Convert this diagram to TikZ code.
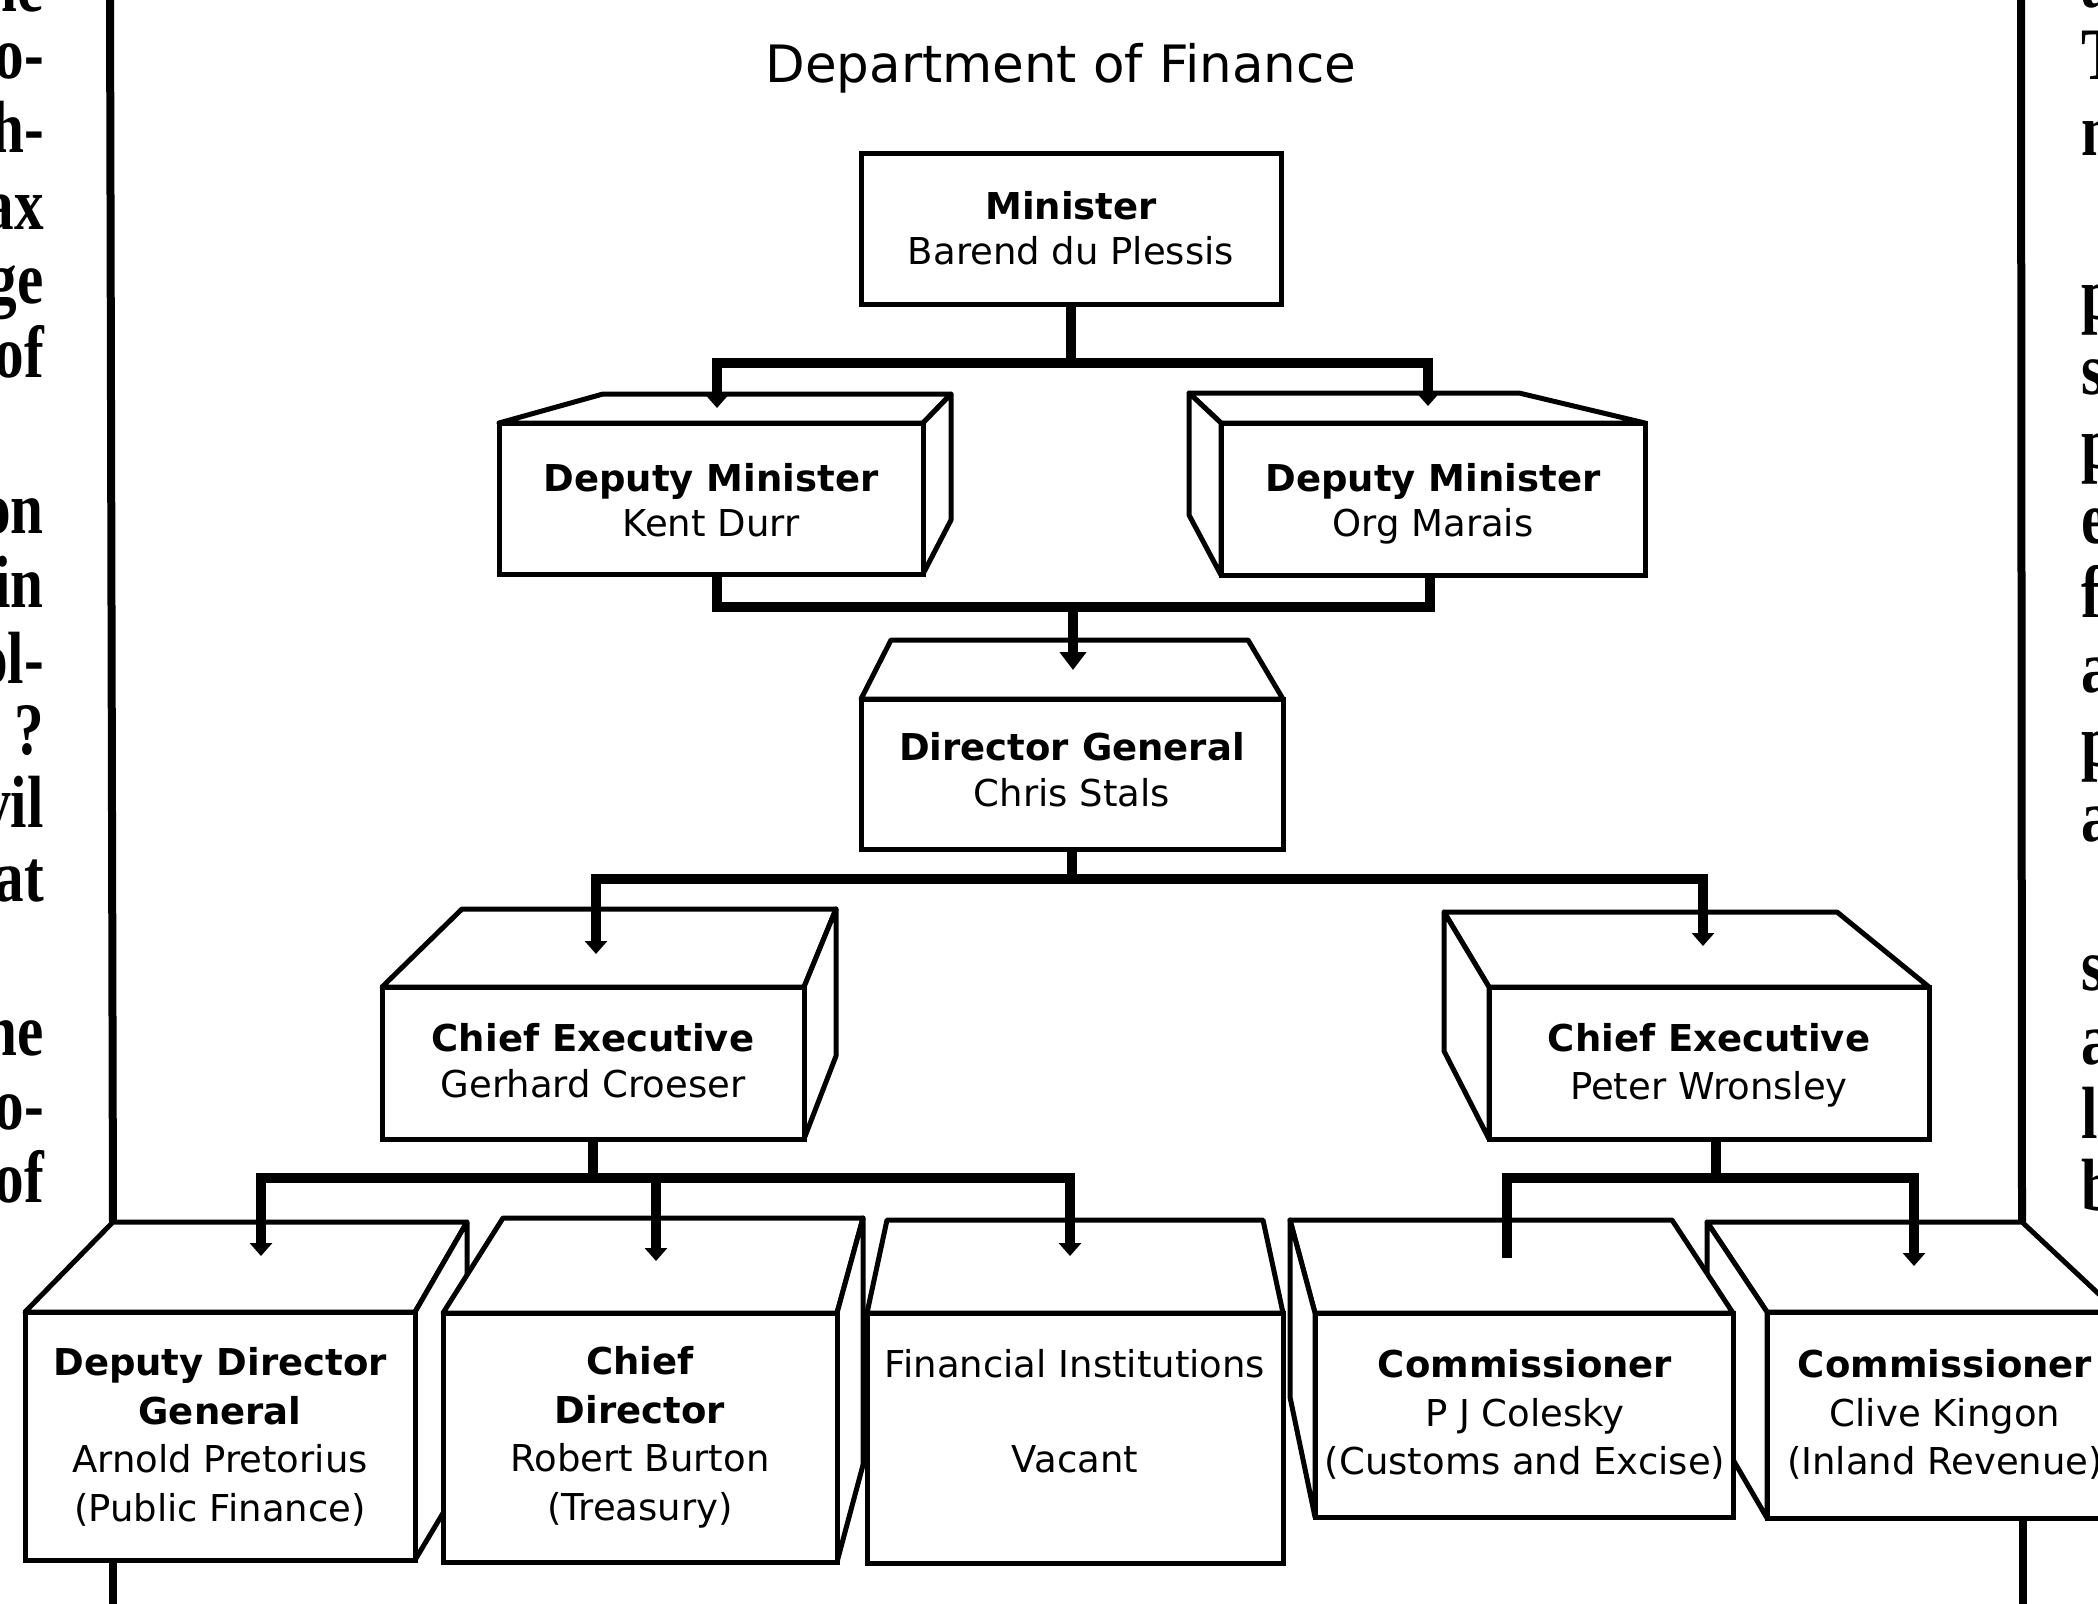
\documentclass[tikz,border=0pt]{standalone}
\usepackage{fontspec}
\usepackage{graphicx}
\setmainfont{DejaVu Sans}
\newfontfamily\dfSerif{Liberation Serif}
\usetikzlibrary{arrows.meta}
\newcommand\dfBox{\fontsize{37}{48}\selectfont}
\newcommand\dfBoxB{\fontsize{37}{48}\selectfont\bfseries}
\newcommand\dfTitle{\fontsize{51.5}{60}\selectfont}
\newcommand\dfCol{\dfSerif\bfseries\fontsize{74}{75}\selectfont}
\newcommand\dfNarrow[1]{\scalebox{0.8}[1]{#1}}
\tikzset{
  frameline/.style={line width=8pt},
  face/.style={draw, fill=white, line width=5pt, line join=round},
  front/.style={draw, fill=white, line width=5pt, rectangle, inner sep=0pt, outer sep=0pt},
  conn/.style={line width=10pt, line join=miter},
  tip/.style={-{Triangle[width=22pt,length=13pt]}},
  bigtip/.style={-{Triangle[width=26pt,length=18pt]}},
  lbl/.style={anchor=base, inner sep=0pt, font=\dfBox},
  lblb/.style={anchor=base, inner sep=0pt, font=\dfBoxB},
  colL/.style={anchor=base east, inner sep=0pt, font=\dfCol},
  colR/.style={anchor=base west, inner sep=0pt, font=\dfCol},
}
\begin{document}
\begin{tikzpicture}[x=1pt,y=-1pt]
\path[use as bounding box] (0,0) rectangle (2098,1603);
\fill[white] (0,0) rectangle (2098,1603);
\clip (0,0) rectangle (2098,1603);

% ---- neighbouring text columns ----
\node[colL] (l0) at (44,12) {\dfNarrow{he}};
\node[colL] (l1) at (44,78) {\dfNarrow{o-}};
\node[colL] (l2) at (44,152) {\dfNarrow{h-}};
\node[colL] (l3) at (44,229) {\dfNarrow{ax}};
\node[colL] (l4) at (44,303) {\dfNarrow{ge}};
\node[colL] (l5) at (44,377) {\dfNarrow{of}};
\node[colL] (l6) at (44,533) {\dfNarrow{on}};
\node[colL] (l7) at (44,607) {\dfNarrow{in}};
\node[colL] (l8) at (44,683) {\dfNarrow{ol-}};
\node[colL] (l9) at (44,754) {\dfNarrow{l ?}};
\node[colL] (l10) at (44,827) {\dfNarrow{vil}};
\node[colL] (l11) at (44,901) {\dfNarrow{at}};
\node[colL] (l12) at (44,1055) {\dfNarrow{he}};
\node[colL] (l13) at (44,1129) {\dfNarrow{o-}};
\node[colL] (l14) at (44,1202) {\dfNarrow{of}};

\node[colR] (r0) at (2081,8) {\dfNarrow{a}};
\node[colR] (r1) at (2081,80) {\dfNarrow{T}};
\node[colR] (r2) at (2081,155) {\dfNarrow{n}};
\node[colR] (r3) at (2081,319) {\dfNarrow{p}};
\node[colR] (r4) at (2081,394) {\dfNarrow{s}};
\node[colR] (r5) at (2081,468) {\dfNarrow{p}};
\node[colR] (r6) at (2081,543) {\dfNarrow{e}};
\node[colR] (r7) at (2081,617) {\dfNarrow{f}};
\node[colR] (r8) at (2081,692) {\dfNarrow{a}};
\node[colR] (r9) at (2081,766) {\dfNarrow{p}};
\node[colR] (r10) at (2081,841) {\dfNarrow{a}};
\node[colR] (r11) at (2081,990) {\dfNarrow{s}};
\node[colR] (r12) at (2081,1064) {\dfNarrow{a}};
\node[colR] (r13) at (2081,1138) {\dfNarrow{l}};
\node[colR] (r14) at (2081,1210) {\dfNarrow{b}};

% ---- title ----
\node[anchor=base, inner sep=0pt, font=\dfTitle] (title) at (1061,82) {Department of Finance};

% ---- Minister ----
\node[front, minimum width=420pt, minimum height=151pt] (min) at (1071,228.5) {};
\node[lblb] (min1) at (1071,219.5) {Minister};
\node[lbl] (min2) at (1071,264.5) {Barend du Plessis};

% ---- Deputy Minister Kent Durr ----
\draw[face] (499,423) -- (603,394) -- (951,394) -- (923,423) -- cycle;
\draw[face] (923,423) -- (951,394) -- (951,520) -- (923,574) -- cycle;
\node[front, minimum width=424pt, minimum height=151pt] (kd) at (711,498.5) {};
\node[lblb] (kd1) at (711,491.5) {Deputy Minister};
\node[lbl] (kd2) at (711,536.5) {Kent Durr};

% ---- Deputy Minister Org Marais ----
\draw[face] (1221,423) -- (1189,393) -- (1519,393) -- (1645,423) -- cycle;
\draw[face] (1221,423) -- (1189,393) -- (1189,515) -- (1221,575) -- cycle;
\node[front, minimum width=424pt, minimum height=152pt] (om) at (1433,499) {};
\node[lblb] (om1) at (1433,491.5) {Deputy Minister};
\node[lbl] (om2) at (1433,536.5) {Org Marais};

% ---- Director General ----
\draw[face] (861,699) -- (891,640) -- (1248,640) -- (1283,699) -- cycle;
\node[front, minimum width=422pt, minimum height=150pt] (dg) at (1072,774) {};
\node[lblb] (dg1) at (1072,760.5) {Director General};
\node[lbl] (dg2) at (1072,806.5) {Chris Stals};

% ---- Chief Executive Gerhard Croeser ----
\draw[face] (382,987) -- (462,909) -- (836,909) -- (804,987) -- cycle;
\draw[face] (804,987) -- (836,909) -- (836,1056) -- (804,1139) -- cycle;
\node[front, minimum width=422pt, minimum height=152pt] (cel) at (593,1063) {};
\node[lblb] (cel1) at (593,1051.5) {Chief Executive};
\node[lbl] (cel2) at (593,1097.5) {Gerhard Croeser};

% ---- Chief Executive Peter Wronsley ----
\draw[face] (1489,987) -- (1444,912) -- (1837,912) -- (1929,987) -- cycle;
\draw[face] (1489,987) -- (1444,912) -- (1444,1051) -- (1489,1139) -- cycle;
\node[front, minimum width=440pt, minimum height=152pt] (cer) at (1709,1063) {};
\node[lblb] (cer1) at (1709,1051.5) {Chief Executive};
\node[lbl] (cer2) at (1709,1099) {Peter Wronsley};

% ---- Deputy Director General ----
\draw[face] (25,1312) -- (113,1222) -- (467,1222) -- (415,1312) -- cycle;
\draw[face] (415,1312) -- (467,1222) -- (467,1473) -- (415,1560) -- cycle;
\node[front, minimum width=390pt, minimum height=248pt] (ddg) at (220,1436) {};
\node[lblb] (ddg1) at (220,1375) {Deputy Director};
\node[lblb] (ddg2) at (220,1424) {General};
\node[lbl] (ddg3) at (220,1472) {Arnold Pretorius};
\node[lbl] (ddg4) at (220,1521) {(Public Finance)};

% ---- Chief Director ----
\draw[face] (443,1313) -- (503,1218) -- (863,1218) -- (837,1313) -- cycle;
\draw[face] (837,1313) -- (863,1218) -- (863,1465) -- (837,1562) -- cycle;
\node[front, minimum width=394pt, minimum height=249pt] (cd) at (640,1437.5) {};
\node[lblb] (cd1) at (640,1374) {Chief};
\node[lblb] (cd2) at (640,1423) {Director};
\node[lbl] (cd3) at (640,1471) {Robert Burton};
\node[lbl] (cd4) at (640,1520) {(Treasury)};

% ---- Financial Institutions ----
\draw[face] (867,1313) -- (887,1220) -- (1263,1220) -- (1283,1313) -- cycle;
\node[front, minimum width=416pt, minimum height=250pt] (fi) at (1075,1438) {};
\node[lbl] (fi1) at (1075,1377) {Financial Institutions};
\node[lbl] (fi2) at (1075,1472) {Vacant};

% ---- Commissioner Clive Kingon ----
\draw[face] (1767,1312) -- (1707,1222) -- (2022,1222) -- (2118,1312) -- cycle;
\draw[face] (1767,1312) -- (1707,1222) -- (1707,1415) -- (1767,1518) -- cycle;
\node[front, minimum width=351pt, minimum height=206pt] (ki) at (1942.5,1415) {};
\node[lblb] (ki1) at (1945,1377) {Commissioner};
\node[lbl] (ki2) at (1945,1426) {Clive Kingon};
\node[lbl] (ki3) at (1945,1474) {(Inland Revenue)};

% ---- Commissioner P J Colesky ----
\draw[face] (1315,1313) -- (1290,1220) -- (1672,1220) -- (1733,1313) -- cycle;
\draw[face] (1315,1313) -- (1290,1220) -- (1290,1397) -- (1315,1517) -- cycle;
\node[front, minimum width=418pt, minimum height=204pt] (co) at (1524,1415) {};
\node[lblb] (co1) at (1525,1377) {Commissioner};
\node[lbl] (co2) at (1525,1426) {P J Colesky};
\node[lbl] (co3) at (1525,1474) {(Customs and Excise)};

% ---- frame lines ----
\coordinate (fL0) at (110,-10);
\coordinate (fL1) at (113,1222);
\coordinate (fL2) at (113,1560);
\coordinate (fL3) at (113,1615);
\coordinate (fR0) at (2021,-10);
\coordinate (fR1) at (2022,1222);
\coordinate (fR2) at (2023,1518);
\coordinate (fR3) at (2023,1615);
\draw[frameline] (fL0) -- (fL1);
\draw[frameline] (fL2) -- (fL3);
\draw[frameline] (fR0) -- (fR1);
\draw[frameline] (fR2) -- (fR3);

% ---- connectors ----
\coordinate (j1) at (1071,363);
\coordinate (kdT) at (717,408);
\coordinate (omT) at (1428,406);
\coordinate (kdB) at (717,574);
\coordinate (omB) at (1430,575);
\coordinate (j2) at (1073,607);
\coordinate (dgT) at (1073,670);
\coordinate (j3) at (1072,879);
\coordinate (celT) at (596,954);
\coordinate (cerT) at (1703,946);
\coordinate (j4) at (593,1178);
\coordinate (cdJ) at (656,1178);
\coordinate (ddgT) at (261,1256);
\coordinate (cdT) at (656,1261);
\coordinate (fiT) at (1070,1256);
\coordinate (cerB) at (1716,1139);
\coordinate (j5) at (1716,1178);
\coordinate (coT) at (1507,1258);
\coordinate (kiT) at (1914,1266);

\draw[conn] (min.south) -- (j1);
\draw[conn,tip] (j1) -| (kdT);
\draw[conn,tip] (j1) -| (omT);

\draw[conn] (kdB) |- (j2) -| (omB);
\draw[conn,bigtip] (j2) -- (dgT);

\draw[conn] (dg.south) -- (j3);
\draw[conn,tip] (j3) -| (celT);
\draw[conn,tip] (j3) -| (cerT);

\draw[conn] (cel.south) -- (j4);
\draw[conn,tip] (j4) -| (ddgT);
\draw[conn,tip] (j4) -| (fiT);
\draw[conn,tip] (cdJ) -- (cdT);

\draw[conn] (cerB) -- (j5);
\draw[conn] (j5) -| (coT);
\draw[conn,tip] (j5) -| (kiT);
\end{tikzpicture}
\end{document}
